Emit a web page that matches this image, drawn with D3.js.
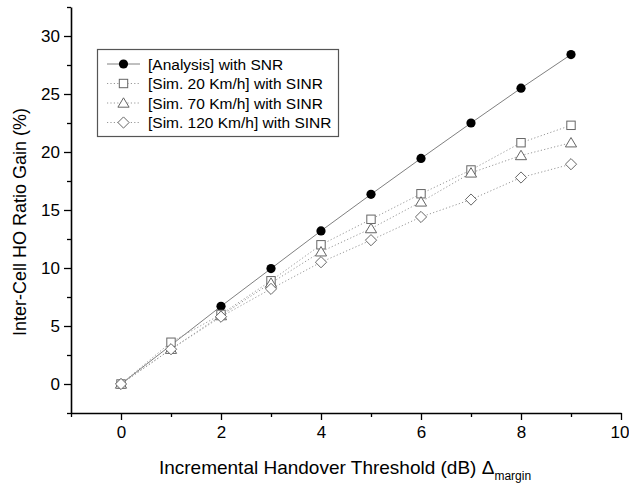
<!DOCTYPE html>
<html><head><meta charset="utf-8">
<script src="https://cdn.jsdelivr.net/npm/d3@7"></script>
<style>body{margin:0;background:#fff}svg{display:block;font-family:"Liberation Sans",Arial,sans-serif}</style>
</head><body><svg id="c" width="629" height="484"></svg>
<script>
const xAnalysis = [0, 2, 3, 4, 5, 6, 7, 8, 9];
const yAnalysis = [0, 6.7, 9.95, 13.2, 16.35, 19.45, 22.5, 25.5, 28.4];
const xSim = [0, 1, 2, 3, 4, 5, 6, 7, 8, 9];
const ySim20 = [0, 3.6, 6.0, 8.9, 12.0, 14.2, 16.4, 18.45, 20.8, 22.3];
const ySim70 = [0, 3.0, 5.9, 8.7, 11.4, 13.4, 15.7, 18.2, 19.7, 20.8];
const ySim120 = [0, 3.0, 5.8, 8.2, 10.5, 12.4, 14.4, 15.9, 17.8, 18.95];
const legendLabels = ["[Analysis] with SNR", "[Sim. 20 Km/h] with SINR", "[Sim. 70 Km/h] with SINR", "[Sim. 120 Km/h] with SINR"];
const xTicks = [0, 2, 4, 6, 8, 10];
const yTicks = [0, 5, 10, 15, 20, 25, 30];

const svg = d3.select("#c");
const x = d3.scaleLinear().domain([-1, 10]).range([71, 621]);
const y = d3.scaleLinear().domain([-2.5, 32.5]).range([413, 7]);

// axes
const xAxis = d3.axisBottom(x).tickValues(xTicks).tickSize(7).tickSizeOuter(0).tickPadding(6).tickFormat(d3.format("d"));
const gx = svg.append("g").attr("transform", "translate(0,413)").call(xAxis);
const xMinor = d3.axisBottom(x).tickValues([-1,1,3,5,7,9]).tickSize(4).tickSizeOuter(0).tickFormat("");
svg.append("g").attr("transform", "translate(0,413)").call(xMinor).select(".domain").remove();
const yAxis = d3.axisLeft(y).tickValues(yTicks).tickSize(7).tickSizeOuter(0).tickPadding(4).tickFormat(d3.format("d"));
const gy = svg.append("g").attr("transform", "translate(71,0)").call(yAxis);
const yMinor = d3.axisLeft(y).tickValues([-2.5,2.5,7.5,12.5,17.5,22.5,27.5,32.5]).tickSize(4).tickSizeOuter(0).tickFormat("");
svg.append("g").attr("transform", "translate(71,0)").call(yMinor).select(".domain").remove();
svg.selectAll(".domain").attr("stroke", "#000").attr("stroke-width", 1.6);
svg.selectAll(".tick line").attr("stroke", "#000").attr("stroke-width", 1.3);
gx.selectAll(".tick text").attr("font-size", 17).attr("font-family", "Liberation Sans, Arial, sans-serif").attr("fill", "#000");
gx.selectAll(".tick text").filter(d => d === 10).attr("text-anchor", "end").attr("x", 8);
gy.selectAll(".tick text").attr("font-size", 17).attr("font-family", "Liberation Sans, Arial, sans-serif").attr("fill", "#000");

// titles
svg.append("text").attr("x", 345).attr("y", 474).attr("text-anchor", "middle")
  .attr("font-size", 19).attr("fill", "#000")
  .text("Incremental Handover Threshold (dB) Δ")
  .append("tspan").attr("font-size", 12).attr("dy", 6).text("margin");
svg.append("text").attr("transform", "translate(26,222) rotate(-90)").attr("text-anchor", "middle")
  .attr("font-size", 18).attr("fill", "#000").text("Inter-Cell HO Ratio Gain (%)");

// markers
function marker(g, type, cx, cy) {
  if (type === "circle") g.append("circle").attr("cx", cx).attr("cy", cy).attr("r", 4.6).attr("fill", "#000");
  else if (type === "square") g.append("rect").attr("x", cx-4.2).attr("y", cy-4.2).attr("width", 8.4).attr("height", 8.4).attr("fill", "#fff").attr("stroke", "#666").attr("stroke-width", 1);
  else if (type === "triangle") g.append("path").attr("d", `M${cx},${cy-5.2}L${cx+5.6},${cy+4.2}L${cx-5.6},${cy+4.2}Z`).attr("fill", "#fff").attr("stroke", "#666").attr("stroke-width", 1);
  else if (type === "diamond") g.append("path").attr("d", `M${cx},${cy-5.6}L${cx+5.6},${cy}L${cx},${cy+5.6}L${cx-5.6},${cy}Z`).attr("fill", "#fff").attr("stroke", "#666").attr("stroke-width", 1);
}

const series = [
  {xs: xAnalysis, ys: yAnalysis, type: "circle", stroke: "#808080", dash: null},
  {xs: xSim, ys: ySim20, type: "square", stroke: "#999", dash: "1.2,2.2"},
  {xs: xSim, ys: ySim70, type: "triangle", stroke: "#999", dash: "1.2,2.2"},
  {xs: xSim, ys: ySim120, type: "diamond", stroke: "#999", dash: "1.2,2.2"}
];
const line = d3.line().x(d => x(d[0])).y(d => y(d[1]));
series.forEach(s => {
  const pts = s.xs.map((v, i) => [v, s.ys[i]]);
  svg.append("path").datum(pts).attr("d", line).attr("fill", "none")
    .attr("stroke", s.stroke).attr("stroke-width", 1).attr("stroke-dasharray", s.dash);
});
series.forEach(s => {
  const g = svg.append("g");
  s.xs.forEach((v, i) => marker(g, s.type, x(v), y(s.ys[i])));
});

// legend
const lg = svg.append("g");
lg.append("rect").attr("x", 97.5).attr("y", 49.5).attr("width", 241).attr("height", 87)
  .attr("fill", "#fff").attr("stroke", "#555").attr("stroke-width", 1.2);
legendLabels.forEach((lab, i) => {
  const cy = 64 + i * 19.5;
  const s = series[i];
  lg.append("line").attr("x1", 107).attr("x2", 140).attr("y1", cy).attr("y2", cy)
    .attr("stroke", s.stroke).attr("stroke-width", 1).attr("stroke-dasharray", s.dash);
  marker(lg, s.type, 123.5, cy);
  lg.append("text").attr("x", 148).attr("y", cy + 5.5).attr("font-size", 15.5).attr("fill", "#000").text(lab);
});
</script></body></html>
